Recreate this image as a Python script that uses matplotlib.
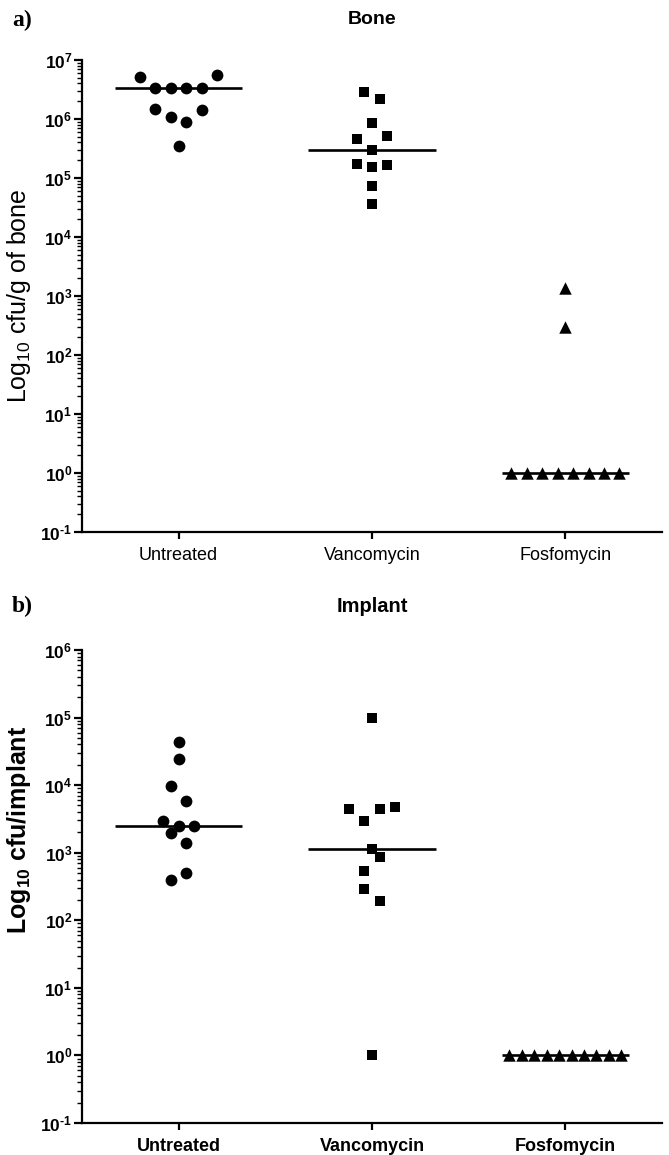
import numpy as np
import matplotlib
matplotlib.use("Agg")
import matplotlib.pyplot as plt
from matplotlib.ticker import LogLocator, FuncFormatter, NullFormatter

plt.rcParams['font.family'] = ['Liberation Sans', 'DejaVu Sans']
plt.rcParams['mathtext.fontset'] = 'custom'
plt.rcParams['mathtext.rm'] = 'Liberation Sans'
plt.rcParams['mathtext.bf'] = 'Liberation Sans:bold'

# groups
groups = ['Untreated', 'Vancomycin', 'Fosfomycin']

# a) bone, cfu/g (order as in the data sheet)
bone_untreated = [5.2e6, 3.3e6, 3.3e6, 3.3e6, 3.3e6, 5.6e6, 1.5e6, 1.1e6, 9.0e5, 1.4e6, 3.5e5]
bone_vanco = [2.9e6, 2.2e6, 8.7e5, 4.6e5, 3.0e5, 5.2e5, 1.7e5, 1.55e5, 1.66e5, 7.2e4, 3.6e4]
bone_fosfo = [1350, 300, 1, 1, 1, 1, 1, 1, 1, 1]

# b) implant, cfu/implant
impl_untreated = [4.3e4, 2.4e4, 9.6e3, 5.9e3, 2.9e3, 2.5e3, 2.45e3, 1.95e3, 1.4e3, 390, 500]
impl_vanco = [1.0e5, 4.4e3, 2.95e3, 4.4e3, 4.8e3, 1.13e3, 540, 870, 290, 190, 1]
impl_fosfo = [1, 1, 1, 1, 1, 1, 1, 1, 1, 1]

markers = ['o', 's', '^']
msizes = [72, 62, 80]


def arrange(ax, vals, center, row_px=15.5, step=0.08, max_w=0.58):
    # prism-like scatter: points close in y share a row, spread side by side
    vals = np.asarray(vals, float)
    py = ax.transData.transform(np.column_stack([np.zeros(len(vals)), vals]))[:, 1]
    order = np.argsort(vals, kind='stable')
    xs = np.zeros(len(vals))
    i = 0
    while i < len(order):
        row = [order[i]]
        j = i + 1
        while j < len(order) and py[order[j]] - py[order[i]] <= row_px:
            row.append(order[j])
            j += 1
        row = sorted(row)
        n = len(row)
        s = min(step, max_w / (n - 1)) if n > 1 else 0
        for k, idx in enumerate(row):
            xs[idx] = center + (k - (n - 1) / 2) * s
        i = j
    return xs


def tick_fmt(v, p):
    e = int(round(np.log10(v)))
    return r'$\mathbf{10^{%s}}$' % (str(e) if e >= 0 else '\u2010' + str(-e))


def panel(ax, data, ylim, ylabel, bold, label_y):
    wt = 'bold' if bold else 'normal'
    ax.set_yscale('log')
    ax.set_ylim(*ylim)
    ax.set_xlim(-0.5, 2.5)
    for g, vals in enumerate(data):
        xs = arrange(ax, vals, g)
        ax.scatter(xs, vals, marker=markers[g], s=msizes[g], color='black',
                   linewidths=0, zorder=3, clip_on=False)
        ax.hlines(np.median(vals), g - 0.33, g + 0.33, color='black', lw=1.9, zorder=2)
    for sp in ['top', 'right']:
        ax.spines[sp].set_visible(False)
    ax.spines['left'].set_linewidth(1.6)
    ax.spines['bottom'].set_linewidth(1.6)
    ax.yaxis.set_major_locator(LogLocator(base=10, numticks=20))
    ax.yaxis.set_minor_locator(LogLocator(base=10, subs=np.arange(2, 10), numticks=20))
    ax.yaxis.set_minor_formatter(NullFormatter())
    ax.yaxis.set_major_formatter(FuncFormatter(tick_fmt))
    ax.tick_params(axis='y', which='major', length=6, width=1.6, labelsize=12.5, pad=1)
    ax.tick_params(axis='y', which='minor', length=3.5, width=1.0)
    ax.set_xticks(range(3))
    ax.set_xticklabels(groups, fontsize=13, fontweight=wt)
    ax.tick_params(axis='x', length=5, width=1.6, pad=6)
    ax.set_ylabel(ylabel, fontsize=18, fontweight=wt)
    ax.yaxis.set_label_coords(-0.085, label_y)


fig = plt.figure(figsize=(6.69, 11.55), dpi=100)
ax1 = fig.add_axes([82 / 669, 1 - 532 / 1155, 580 / 669, 472 / 1155])
ax2 = fig.add_axes([82 / 669, 1 - 1123 / 1155, 580 / 669, 473 / 1155])

panel(ax1, [bone_untreated, bone_vanco, bone_fosfo], (0.1, 1e7),
      r'Log$_{10}$ cfu/g of bone', False, 0.5)
panel(ax2, [impl_untreated, impl_vanco, impl_fosfo], (0.1, 1e6),
      r'Log$_{\mathbf{10}}$ cfu/implant', True, 0.62)

fig.text(372 / 669, 1 - 20 / 1155, 'Bone', ha='center', va='center', fontsize=14, fontweight='bold')
fig.text(372 / 669, 1 - 606 / 1155, 'Implant', ha='center', va='center', fontsize=14.5, fontweight='bold')
fig.text(12 / 669, 1 - 20 / 1155, 'a)', ha='left', va='center', fontsize=17, fontweight='bold',
         family='Liberation Serif')
fig.text(12 / 669, 1 - 606 / 1155, 'b)', ha='left', va='center', fontsize=17, fontweight='bold',
         family='Liberation Serif')

fig.savefig('out.png', dpi=100)
